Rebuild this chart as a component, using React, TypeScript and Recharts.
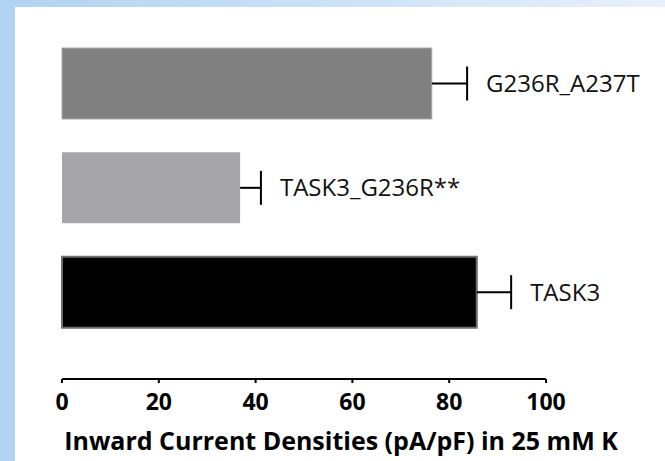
import React from "react";
import { BarChart, Bar, XAxis, YAxis, Cell, LabelList } from "recharts";

const names = ["G236R_A237T", "TASK3_G236R**", "TASK3"];
const densities = [76.4, 36.8, 85.7];
const sems = [7.3, 4.3, 7.1];
const xTicks = [0, 20, 40, 60, 80, 100];

const fills = ["#808080", "#a6a6a8", "#000000"];
const strokes = ["#a8a8a8", "#a6a6a8", "#6e6e6e"];
const strokeWidths = [1, 0, 2];

const data = names.map((name, i) => ({
  name,
  value: densities[i],
  err: sems[i],
}));

const ErrorShape = (props: any) => {
  const { x, y, width, height } = props;
  const cy = y + height / 2;
  const end = x + width;
  return (
    <g>
      <line x1={x} y1={cy} x2={end} y2={cy} stroke="#000" strokeWidth={2} />
      <line x1={end} y1={cy - 17} x2={end} y2={cy + 17} stroke="#000" strokeWidth={2} />
    </g>
  );
};

export default function App() {
  return (
    <div
      style={{
        position: "fixed",
        left: 0,
        top: 0,
        width: 665,
        height: 461,
        background: "linear-gradient(to right, #b1d2f2, #e7f1fb)",
        fontFamily: "'Open Sans', sans-serif",
      }}
    >
      <div
        style={{
          position: "absolute",
          left: 15,
          top: 7,
          width: 650,
          height: 454,
          background: "#fff",
        }}
      />
      <div style={{ position: "absolute", left: 0, top: 0 }}>
        <BarChart
          width={665}
          height={461}
          data={data}
          layout="vertical"
          margin={{ top: 31, right: 119, bottom: 0, left: 62 }}
        >
          <XAxis
            type="number"
            domain={[0, 100]}
            ticks={xTicks}
            interval={0}
            height={82}
            tickSize={4}
            tickMargin={11}
            axisLine={{ stroke: "#000", strokeWidth: 2 }}
            tickLine={{ stroke: "#000", strokeWidth: 2 }}
            tick={{ fill: "#000", fontSize: 23, fontWeight: 700 }}
            label={{
              value: "Inward Current Densities (pA/pF) in 25 mM K",
              position: "insideBottom",
              offset: 11,
              dx: 37,
              fill: "#000",
              fontSize: 25,
              fontWeight: 700,
            }}
          />
          <YAxis
            type="category"
            dataKey="name"
            hide
            padding={{ top: 0, bottom: 35 }}
          />
          <Bar dataKey="value" stackId="a" barSize={71} isAnimationActive={false}>
            {data.map((d, i) => (
              <Cell
                key={d.name}
                fill={fills[i]}
                stroke={strokes[i]}
                strokeWidth={strokeWidths[i]}
              />
            ))}
          </Bar>
          <Bar
            dataKey="err"
            stackId="a"
            barSize={71}
            shape={ErrorShape}
            isAnimationActive={false}
          >
            <LabelList
              dataKey="name"
              position="right"
              offset={19}
              fill="#111"
              fontSize={24}
            />
          </Bar>
        </BarChart>
      </div>
    </div>
  );
}
